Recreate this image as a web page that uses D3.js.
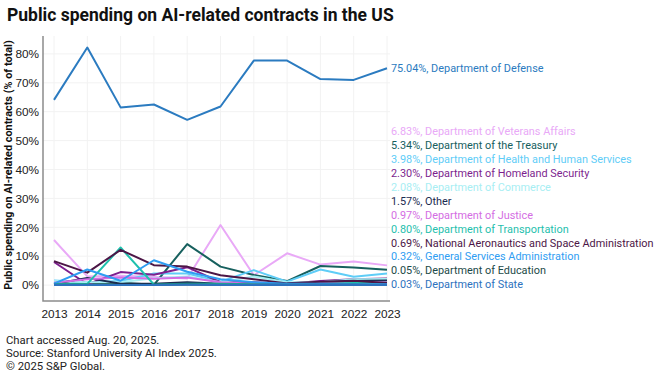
<!DOCTYPE html>
<html><head><meta charset="utf-8">
<script src="https://cdn.jsdelivr.net/npm/d3@7"></script>
<style>body{margin:0;background:#fff}svg{display:block;font-family:"Roboto","Liberation Sans",Arial,sans-serif}</style>
</head><body><svg id="c" width="660" height="378"></svg>
<script>
const years = [2013,2014,2015,2016,2017,2018,2019,2020,2021,2022,2023];
const yTicks = [0,10,20,30,40,50,60,70,80];
const seriesNames = ["Department of Defense","Department of Veterans Affairs","Department of the Treasury","Department of Health and Human Services","Department of Homeland Security","Department of Commerce","Other","Department of Justice","Department of Transportation","National Aeronautics and Space Administration","General Services Administration","Department of Education","Department of State"];
const defense        = [64.1,82.2,61.5,62.5,57.2,61.8,77.7,77.7,71.3,71.0,75.04];
const veterans       = [15.6,3.0,3.2,2.8,2.3,20.8,3.4,11.0,7.1,8.2,6.83];
const treasury       = [0.3,0.6,0.8,0.1,14.2,6.4,3.5,1.4,6.6,6.1,5.34];
const hhs            = [1.6,1.0,1.4,4.0,4.0,1.2,5.2,1.2,5.4,2.9,3.98];
const homeland       = [8.0,0.3,4.5,3.6,6.2,1.0,1.0,0.5,1.4,2.0,2.30];
const commerce       = [1.4,1.0,1.0,2.4,3.0,1.0,3.0,1.0,1.0,2.0,2.08];
const other          = [0.4,2.5,0.5,0.5,1.0,0.5,0.6,0.3,1.0,1.4,1.57];
const justice        = [0.8,2.0,2.6,2.2,2.6,1.0,0.5,0.3,0.8,1.0,0.97];
const transportation = [0.5,0.4,13.0,0.2,0.5,0.5,0.3,0.5,0.5,0.7,0.80];
const nasa           = [8.3,4.3,12.2,6.9,6.4,3.4,2.0,0.6,1.2,1.5,0.69];
const gsa            = [0.5,5.4,1.5,8.6,4.6,2.0,1.0,0.5,0.5,0.3,0.32];
const education      = [0.1,0.1,0.1,0.1,0.2,0.1,0.1,0.1,0.1,0.1,0.05];
const state          = [0.0,0.0,0.0,0.0,0.1,0.0,0.0,0.0,0.0,0.0,0.03];
const seriesValues = [defense,veterans,treasury,hhs,homeland,commerce,other,justice,transportation,nasa,gsa,education,state];
const colors = ["#2b7bc0","#e9a9f7","#17605e","#5fcdf7","#7d1f8e","#a7eef3","#1b2a50","#d46de3","#1fc0ad","#4c1646","#2f9df2","#1c4a48","#2d72be"];

const svg = d3.select("#c");
const x = d3.scalePoint().domain(years).range([54, 387]);
const y = d3.scaleLinear().domain([-5.5, 86.2]).range([301, 36]);

// scale a text's font size so that it spans a target width
function fit(sel, target) {
  const fs = +sel.attr("font-size");
  const w = sel.node().getComputedTextLength();
  const nf = fs * target / w;
  sel.attr("font-size", nf);
  return nf;
}

// gridlines
svg.append("g").selectAll("line").data(years).join("line")
  .attr("x1", d => x(d)).attr("x2", d => x(d)).attr("y1", 36).attr("y2", 301)
  .attr("stroke", "#f2f2f2").attr("stroke-width", 1);
svg.append("g").selectAll("line").data(yTicks).join("line")
  .attr("x1", 43).attr("x2", 390).attr("y1", d => y(d)).attr("y2", d => y(d))
  .attr("stroke", "#f2f2f2").attr("stroke-width", 1);

// axes
const yAxis = svg.append("g").attr("transform", "translate(43,0)")
  .call(d3.axisLeft(y).tickValues(yTicks).tickFormat(d => d + "%").tickSize(0).tickPadding(4));
yAxis.select(".domain").remove();
yAxis.selectAll("text").attr("font-size", 11.8).attr("fill", "#222").attr("font-family", "inherit");
const xAxis = svg.append("g").attr("transform", "translate(0,301)")
  .call(d3.axisBottom(x).tickFormat(d3.format("d")).tickSize(0).tickPadding(9));
xAxis.select(".domain").remove();
xAxis.selectAll("text").attr("font-size", 11.8).attr("fill", "#222").attr("font-family", "inherit");
svg.append("path").attr("d", "M43,36V301H390").attr("fill", "none").attr("stroke", "#8c8c8c").attr("stroke-width", 1.5);

// lines
const line = d3.line().x((d, i) => x(years[i])).y(d => y(d));
svg.append("g").selectAll("path").data(seriesValues).join("path")
  .attr("d", d => line(d)).attr("fill", "none")
  .attr("stroke", (d, i) => colors[i]).attr("stroke-width", 2).attr("stroke-linejoin", "round");

// labels
const labelY = (i) => i === 0 ? y(defense[10]) : 131.5 + (i - 1) * 13.9;
const labels = svg.append("g").selectAll("text").data(seriesNames).join("text")
  .attr("x", 391).attr("y", (d, i) => labelY(i)).attr("dy", "0.35em")
  .attr("font-size", 11.5).attr("fill", (d, i) => colors[i])
  .text((d, i) => seriesValues[i][10].toFixed(2) + "%, " + d);
const lf = fit(labels.filter((d, i) => i === 9), 263);
labels.attr("font-size", lf);

// titles
const title = svg.append("text").attr("x", 7).attr("y", 21).attr("font-size", 17).attr("font-weight", 700).attr("fill", "#111")
  .text("Public spending on AI-related contracts in the US");
fit(title, 387);
const yt = svg.append("text").attr("transform", "translate(12,165) rotate(-90)").attr("text-anchor", "middle")
  .attr("font-size", 11.5).attr("font-weight", 700).attr("fill", "#111")
  .text("Public spending on AI-related contracts (% of total)");
fit(yt, 250);
const foot = ["Chart accessed Aug. 20, 2025.", "Source: Stanford University AI Index 2025.", "© 2025 S&P Global."];
const ft = svg.append("g").selectAll("text").data(foot).join("text")
  .attr("x", 6).attr("y", (d, i) => 343.5 + i * 13.3).attr("font-size", 11).attr("fill", "#222").text(d => d);
const ff = fit(ft.filter((d, i) => i === 1), 211);
ft.attr("font-size", ff);
</script></body></html>
